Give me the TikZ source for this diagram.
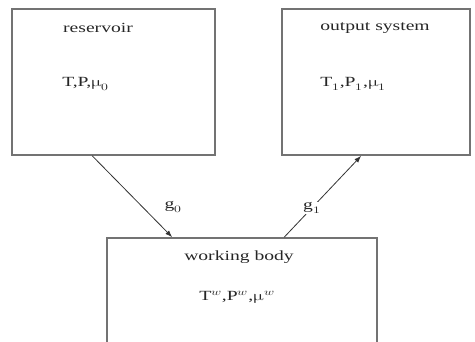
\documentclass[tikz,border=0pt]{standalone}
\usepackage{fontspec}
\setmainfont{Liberation Serif}
\usepackage{unicode-math}
\setmathfont{Latin Modern Math}
\usetikzlibrary{arrows.meta}
\begin{document}
\begin{tikzpicture}[x=1pt,y=-1pt,
  sysbox/.style={draw=black!55,line width=1.6pt,rectangle,inner sep=0pt},
  lbl/.style={font=\fontsize{14}{16}\selectfont,xscale=1.4,inner sep=0pt,text=black!85},
  flow/.style={draw=black!80,line width=0.8pt,-{Latex[length=7pt,width=5pt]}}]
\useasboundingbox (0,0) rectangle (475,342);
\clip (0,0) rectangle (475,342);
\node[sysbox,minimum width=203pt,minimum height=146pt] (res) at (113.5,82) {};
\node[sysbox,minimum width=188pt,minimum height=146pt] (out) at (376,82) {};
\node[sysbox,minimum width=270pt,minimum height=130pt] (wb) at (242,303) {};
\node[lbl] (t1) at (98,28) {reservoir};
\node[lbl,anchor=west] (t2) at (62,84) {T,P,$\symup{\mu}_0$};
\node[lbl] (t3) at (375,28) {output system};
\node[lbl,anchor=west] (t4) at (320,84) {T$_1$,P$_1$,$\symup{\mu}_1$};
\node[lbl] (t5) at (239,257) {working body};
\node[lbl] (t6) at (237,297) {T$^w$,P$^w$,$\symup{\mu}^w$};
\draw[flow] ([xshift=81pt]res.south west) -- ([xshift=66pt]wb.north west) node[lbl,pos=0.63,xshift=22pt] (g0) {g$_0$};
\draw[flow] ([xshift=178pt]wb.north west) -- ([xshift=80pt]out.south west) node[lbl,pos=0.36,fill=white,inner sep=1pt] (g1) {g$_1$};
\end{tikzpicture}
\end{document}
